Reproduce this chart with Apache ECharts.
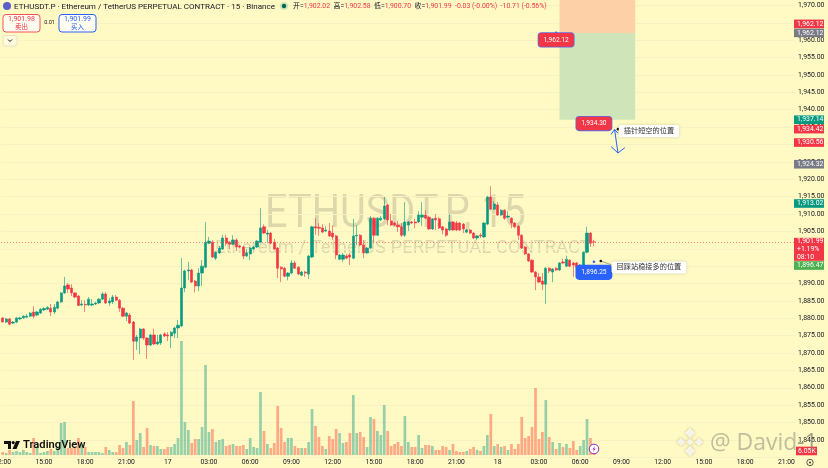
<!DOCTYPE html>
<html>
<head>
<meta charset="utf-8">
<style>html,body{margin:0;padding:0;background:#FFF9C4}#c{width:828px;height:468px}</style>
<script src="https://cdn.jsdelivr.net/npm/echarts@6/dist/echarts.min.js"></script>
</head>
<body>
<div id="c"></div>
<script>
// [open, close, low, high]
const candles = [
[1880.1,1878.9,1878.8,1880.3],[1878.9,1879.8,1878.6,1880.1],[1879.8,1878.3,1878.0,1880.1],[1878.6,1878.9,1878.3,1879.2],[1878.9,1880.1,1878.6,1880.3],
[1879.8,1880.1,1879.5,1880.4],[1880.1,1880.6,1879.8,1880.9],[1880.3,1880.6,1880.1,1881.2],[1880.6,1881.5,1880.3,1881.8],[1881.8,1880.6,1880.0,1883.5],
[1880.9,1881.8,1880.6,1882.1],[1881.5,1882.6,1881.2,1882.9],[1882.4,1882.8,1882.1,1883.2],[1882.6,1883.1,1882.4,1883.5],[1882.9,1881.8,1880.6,1884.1],
[1881.8,1883.2,1881.2,1884.1],[1882.9,1884.7,1882.6,1885.0],[1884.7,1887.3,1884.4,1887.5],[1887.3,1889.3,1887.0,1891.9],[1889.6,1888.4,1887.3,1890.1],
[1888.7,1887.3,1886.4,1889.8],[1887.3,1886.1,1885.8,1887.5],[1886.4,1883.7,1883.5,1886.7],[1883.8,1884.1,1883.5,1885.2],[1884.0,1883.8,1881.8,1885.2],
[1883.8,1885.5,1883.5,1886.1],[1883.8,1884.1,1883.5,1885.5],[1884.1,1884.4,1883.8,1884.7],[1884.4,1885.5,1884.1,1885.8],[1885.5,1887.0,1885.2,1887.5],
[1887.0,1884.4,1884.1,1887.5],[1884.4,1885.0,1883.5,1885.8],[1884.7,1886.1,1884.1,1886.7],[1886.1,1885.2,1885.0,1886.7],[1885.2,1882.9,1881.8,1885.5],
[1882.9,1880.6,1880.3,1883.2],[1880.6,1881.5,1879.2,1881.8],[1880.9,1878.6,1878.3,1881.5],[1878.9,1873.4,1868.0,1879.2],[1873.4,1874.6,1870.9,1875.2],
[1874.3,1876.9,1869.7,1877.2],[1876.9,1874.3,1873.7,1877.2],[1874.3,1872.3,1868.3,1874.6],[1872.3,1875.2,1872.0,1875.5],[1875.2,1872.6,1872.3,1877.0],
[1872.6,1873.2,1872.3,1875.2],[1872.9,1875.2,1872.3,1875.5],[1875.5,1874.9,1874.6,1876.0],[1875.2,1874.9,1873.4,1876.0],[1874.9,1876.0,1871.4,1876.3],
[1875.7,1877.2,1874.3,1877.5],[1877.2,1878.0,1874.3,1879.5],[1877.8,1888.7,1877.5,1897.3],[1888.7,1893.6,1887.5,1894.0],[1893.6,1893.9,1891.0,1896.2],
[1893.9,1890.4,1890.1,1894.2],[1890.7,1889.3,1887.5,1891.0],[1889.3,1893.0,1887.8,1894.4],[1893.0,1895.0,1889.3,1896.7],[1894.7,1901.9,1894.4,1907.7],
[1901.6,1902.2,1901.3,1903.4],[1901.9,1897.6,1897.3,1902.5],[1897.3,1899.0,1896.7,1899.3],[1898.8,1900.2,1898.5,1900.8],[1899.9,1903.1,1899.6,1904.0],
[1903.1,1901.6,1900.8,1904.0],[1901.9,1901.3,1899.9,1902.2],[1901.3,1902.5,1901.0,1903.9],[1902.5,1900.5,1899.3,1903.0],[1900.8,1900.5,1900.2,1901.1],
[1900.5,1897.9,1897.0,1900.8],[1897.9,1898.8,1897.6,1899.9],[1898.5,1900.2,1896.7,1900.5],[1899.9,1900.5,1899.6,1900.8],[1900.5,1902.2,1900.2,1902.5],
[1901.9,1906.0,1901.6,1911.7],[1906.3,1904.5,1904.2,1907.0],[1904.2,1904.5,1901.6,1905.4],[1904.5,1901.6,1901.3,1904.8],[1901.9,1899.9,1899.6,1902.8],
[1900.2,1894.4,1891.6,1900.5],[1894.7,1894.2,1890.4,1895.0],[1894.4,1892.1,1891.8,1894.7],[1892.1,1893.0,1890.9,1893.3],[1893.0,1895.9,1892.7,1896.7],
[1895.9,1894.4,1894.2,1896.5],[1894.7,1892.7,1892.4,1895.0],[1892.4,1893.3,1892.1,1893.6],[1893.3,1893.0,1891.9,1893.6],[1892.7,1897.9,1891.3,1898.2],
[1897.6,1906.3,1897.3,1906.6],[1906.3,1906.0,1904.0,1908.8],[1906.2,1905.9,1903.7,1907.4],[1906.0,1904.8,1904.5,1907.1],[1905.1,1905.4,1904.8,1906.5],
[1905.1,1903.7,1903.4,1907.4],[1904.5,1903.4,1902.5,1906.8],[1903.7,1898.2,1897.0,1904.0],[1897.0,1898.2,1896.7,1898.5],[1897.0,1898.2,1896.2,1898.8],
[1897.9,1897.3,1897.0,1898.5],[1898.2,1897.6,1895.3,1898.8],[1897.3,1903.7,1897.0,1908.6],[1903.7,1903.9,1901.0,1906.8],[1903.9,1901.1,1900.8,1904.2],
[1901.1,1898.8,1897.3,1902.5],[1898.8,1900.2,1898.5,1900.5],[1900.2,1908.8,1899.9,1909.4],[1908.8,1903.9,1901.9,1909.1],[1903.9,1908.8,1903.7,1909.1],
[1908.3,1908.8,1908.0,1909.4],[1908.6,1912.3,1908.3,1914.9],[1912.6,1908.3,1906.8,1912.9],[1908.0,1906.8,1906.5,1910.0],[1907.4,1906.8,1906.5,1907.7],
[1906.8,1906.3,1904.8,1908.0],[1906.3,1903.9,1903.4,1907.4],[1903.9,1907.7,1903.4,1913.4],[1906.8,1907.7,1905.1,1908.0],[1907.7,1907.4,1907.1,1908.0],
[1907.7,1907.4,1905.9,1908.6],[1907.7,1909.7,1907.4,1910.8],[1909.1,1909.7,1906.5,1913.4],[1909.7,1908.8,1908.6,1911.1],[1909.1,1905.7,1905.4,1909.4],
[1905.7,1908.6,1905.4,1908.8],[1908.8,1908.3,1905.4,1910.0],[1908.6,1906.0,1905.7,1909.1],[1906.3,1905.4,1904.2,1906.6],[1905.7,1903.9,1903.4,1906.0],
[1905.4,1907.7,1905.1,1910.0],[1907.7,1905.4,1905.1,1908.0],[1907.4,1905.4,1905.1,1908.0],[1907.4,1905.4,1905.1,1907.7],[1907.1,1905.7,1904.5,1907.4],
[1904.8,1905.4,1904.5,1905.7],[1905.4,1904.5,1904.2,1905.7],[1904.5,1903.1,1902.8,1904.8],[1903.1,1903.7,1902.5,1904.0],[1903.9,1903.7,1903.1,1904.5],
[1903.4,1907.4,1903.1,1907.7],[1907.1,1914.9,1906.8,1915.2],[1914.9,1911.4,1911.1,1918.0],[1911.4,1912.9,1911.1,1913.7],[1912.6,1909.7,1909.4,1913.4],
[1909.7,1911.1,1909.4,1911.4],[1911.1,1908.8,1908.3,1911.4],[1909.1,1909.4,1908.8,1910.8],[1908.8,1907.4,1905.9,1909.1],[1907.4,1906.3,1905.9,1907.7],
[1906.5,1903.9,1902.5,1906.8],[1903.9,1900.2,1899.9,1904.2],[1900.5,1898.5,1898.2,1900.8],[1898.5,1896.5,1896.2,1898.8],[1896.7,1893.3,1893.0,1897.0],
[1893.3,1891.9,1888.1,1893.6],[1891.9,1890.4,1890.1,1893.0],[1890.7,1889.8,1888.1,1893.0],[1889.8,1894.4,1884.1,1894.7],[1894.4,1893.6,1893.0,1894.7],
[1893.3,1894.2,1890.4,1894.4],[1894.4,1893.9,1893.6,1894.7],[1893.9,1895.9,1893.6,1896.2],[1896.2,1895.9,1895.6,1897.1],[1895.0,1897.0,1894.7,1898.0],
[1896.7,1895.0,1894.7,1897.0],[1895.9,1895.3,1891.9,1896.2],[1895.9,1894.7,1891.9,1896.2],[1894.4,1895.3,1893.5,1895.6],[1895.0,1899.0,1894.7,1899.3],
[1899.0,1904.5,1898.7,1906.3],[1904.5,1901.6,1900.5,1904.8],[1902.02,1901.99,1900.70,1902.58]
];
// volume, thousands
const volumes = [
4.5,3,7.5,4.5,6,4.5,7.5,4.5,3,25.5,
13.5,3,4.5,6,9,6,12,48,49.5,10.5,
10.5,10.5,25.5,15,12,4.5,4.5,4.5,4.5,3,
12,7.5,4.5,4.5,15,10.5,19.5,15,81,22.5,
33,12,40.5,15,13.5,13.5,9,9,12,12,
16.5,25.5,171,49.5,37.5,18,24,24,42,135,
34.5,39,19.5,22.5,24,13.5,15,16.5,13.5,13.5,
15,9,25.5,12,10.5,94.5,36,16.5,10.5,18,
73.5,40.5,19.5,25.5,25.5,13.5,10.5,10.5,10.5,19.5,
69,43.5,27,13.5,9,28.5,24,39,33,18,
19.5,33,90,33,34.5,27,12,57,54,36,
30,75,36,13.5,16.5,19.5,13.5,58.5,19.5,12,
12,30,10.5,15,15,13.5,7.5,7.5,13.5,12,
7.5,16.5,6,4.5,4.5,6,9,12,7.5,6,
13.5,30,61.5,13.5,16.5,12,13.5,7.5,16.5,9,
16.5,57,25.5,28.5,42,100.5,24,34.5,82.5,27,
19.5,9,18,12,16.5,10.5,21,7.5,13.5,22.5,
54,25.5,6.05
];
const tickLabels = ['12:00','15:00','18:00','21:00','17','03:00','06:00','09:00','12:00','15:00','18:00','21:00','18','03:00','06:00','09:00','12:00','15:00','18:00','21:00'];
const barCount = 231, barsPerTick = 12;
const categories = Array.from({length: barCount}, (_, i) => String(i));

const lastPrice = 1901.99, stopPrice = 1962.12, targetPrice = 1937.14, shortLine = 1934.42, longLine = 1896.47;
const shortEntry = 1934.30, longEntry = 1896.25;
const badgePrices = [1962.12, 1962.12, 1937.14, 1934.42, 1930.56, 1924.32, 1913.02, 1901.99, 1896.47];
const badgeTexts = ['1,962.12', '1,962.12', '1,937.14', '1,934.42', '1,930.56', '1,924.32', '1,913.02', '1,901.99\n+1.19%\n08:10', '1,896.47'];

const RED = '#F23645', GREEN = '#089981', GRAY = '#787B86', BLUE = '#2962FF', BG = '#FFF9C4';
const badgeColors = [RED, GRAY, GREEN, RED, RED, GRAY, GREEN, RED, '#4CAF50'];
const badgeNudge = [-9, 0, 0, 0, 0, 0, 0, 7.5, 4.5];
const FONT = "Roboto, 'Noto Sans CJK SC', sans-serif";

function commas(v) { return v.toFixed(2).replace(/\B(?=(\d{3})+(?!\d))/g, ','); }

function pill(idx, price, text, fill, border, dy) {
  return { coord: [idx, price], symbolSize: 0, label: { show: true, position: 'inside', offset: [0, dy], formatter: text,
    color: '#fff', fontSize: 6.6, fontFamily: FONT, backgroundColor: fill, borderColor: border, borderWidth: 0.8, borderRadius: 3, padding: [4, 5, 3, 5] } };
}
function note(idx, price, text, dy) {
  return { coord: [idx, price], symbolSize: 0, label: { show: true, position: 'inside', offset: [0, dy], formatter: text,
    color: '#333', fontSize: 7.2, fontFamily: FONT, backgroundColor: '#fff', borderRadius: 2, padding: [3, 5, 2, 5], shadowColor: 'rgba(0,0,0,.18)', shadowBlur: 3 } };
}
function dot(idx, price, color) { return { coord: [idx, price], symbol: 'circle', symbolSize: 2.6, itemStyle: { color }, label: { show: false } }; }

const markers = [
  pill(161, stopPrice, '1,962.12', RED, '#5B6BE8', 7),
  pill(171.8, shortEntry, '1,934.30', RED, '#5B6BE8', -6),
  pill(171.8, longEntry, '1,896.25', BLUE, BLUE, 10.5),
  note(188.4, shortLine, '插针短空的位置', 2),
  note(188.4, longLine, '回踩站稳接多的位置', 6.5),
  dot(161, stopPrice, BLUE), dot(171.8, shortEntry, BLUE), dot(172, longEntry, BLUE),
  dot(179, shortLine, '#111'), dot(174, longLine, '#111')
];
// hand-drawn arrow, in [bar, price]
const arrowShaft = [[177.9, 1934.37], [179, 1927.55]];
const arrowTop = [[177.3, 1932.9], [177.9, 1934.37], [178.6, 1933.2]];
const arrowBottom = [[177.4, 1929.4], [179, 1927.55], [180.6, 1929.1]];
const connectors = [[[174, longLine], [179, 1894.7]], [[179, shortLine], [181, 1933.9]]];

function diamond(cx, cy, r) { return { type: 'polygon', shape: { points: [[cx, cy - r], [cx + r, cy], [cx, cy + r], [cx - r, cy]] }, style: { fill: 'rgba(255,255,255,.8)', shadowColor: 'rgba(120,110,60,.55)', shadowBlur: 3 }, z: 60 }; }
function t(x, y, text, size, color, extra) {
  return { type: 'text', x, y, z: 100, style: Object.assign({ text, fontSize: size, fill: color, fontFamily: FONT, verticalAlign: 'middle' }, extra || {}) };
}
const markStyle = { fontSize: 23, fontFamily: 'Open Sans, sans-serif', fill: 'rgba(150,150,130,.6)', verticalAlign: 'middle', shadowColor: 'rgba(255,255,255,.9)', shadowBlur: 2 };

const graphics = [
  { type: 'rect', shape: { x: 795, y: 455, width: 33, height: 13 }, style: { fill: BG }, z: 1 },
  { type: 'text', x: 265, y: 215, scaleX: 0.845, z: 1, style: { text: 'ETHUSDT.P, 15', fontSize: 47, fontFamily: FONT, fill: 'rgba(120,120,100,.25)', verticalAlign: 'middle' } },
  { type: 'text', x: 215, y: 248, z: 1, style: { text: 'Ethereum / TetherUS PERPETUAL CONTRACT', fontSize: 18.5, fontFamily: FONT, fill: 'rgba(120,120,100,.25)', verticalAlign: 'middle' } },
  // header
  { type: 'circle', shape: { cx: 7, cy: 6, r: 4 }, style: { fill: '#5B5FC7' }, z: 100 },
  t(14, 6.5, 'ETHUSDT.P · Ethereum / TetherUS PERPETUAL CONTRACT · 15 · Binance', 8.05, '#131722'),
  { type: 'circle', shape: { cx: 284, cy: 6, r: 4 }, style: { fill: 'rgba(8,153,129,.2)' }, z: 100 },
  { type: 'circle', shape: { cx: 284, cy: 6, r: 2.2 }, style: { fill: '#056656' }, z: 101 },
  { type: 'text', x: 293, y: 6.5, z: 100, style: { fontFamily: FONT, fontSize: 6.9, verticalAlign: 'middle', fill: '#F23645',
      text: '{k|开=}1,902.02  {k|高=}1,902.58  {k|低=}1,900.70  {k|收=}1,901.99  -0.03 (-0.00%)  -10.71 (-0.56%)',
      rich: { k: { fill: '#131722', fontSize: 6.9, fontFamily: FONT } } } },
  // buttons
  { type: 'rect', shape: { x: 3, y: 14.5, width: 37, height: 17.5, r: 3 }, style: { fill: '#FFFDF0', stroke: '#F7525F', lineWidth: 1 }, z: 100 },
  t(21.5, 19.5, '1,901.98', 7, RED, { align: 'center' }),
  t(21.5, 27, '卖出', 6.5, RED, { align: 'center' }),
  t(49.5, 23, '0.01', 5.5, '#131722', { align: 'center' }),
  { type: 'rect', shape: { x: 59, y: 14.5, width: 37, height: 17.5, r: 3 }, style: { fill: '#FFFDF0', stroke: BLUE, lineWidth: 1 }, z: 100 },
  t(77.5, 19.5, '1,901.99', 7, BLUE, { align: 'center' }),
  t(77.5, 27, '买入', 6.5, BLUE, { align: 'center' }),
  { type: 'rect', shape: { x: 3, y: 35.5, width: 14, height: 10.5, r: 2 }, style: { fill: '#FFFBDC', stroke: '#E5E2C8', lineWidth: 1 }, z: 100 },
  { type: 'polyline', shape: { points: [[8, 39.5], [10, 41.5], [12, 39.5]] }, style: { stroke: '#131722', lineWidth: 1, fill: null }, z: 101 },
  // TradingView logo
  { type: 'polygon', shape: { points: [[4, 441], [11, 441], [11, 449], [8, 449], [8, 444], [4, 444]] }, style: { fill: '#111' }, z: 100 },
  { type: 'circle', shape: { cx: 13.2, cy: 442.6, r: 1.6 }, style: { fill: '#111' }, z: 100 },
  { type: 'polygon', shape: { points: [[16, 441], [20, 441], [16.5, 449], [12.5, 449]] }, style: { fill: '#111' }, z: 100 },
  t(23, 445.5, 'TradingView', 11.2, '#111', { fontWeight: 600 }),
  // lightning marker
  { type: 'circle', shape: { cx: 594, cy: 449, r: 4.8 }, style: { fill: '#fff', stroke: '#9C27B0', lineWidth: 1 }, z: 100 },
  { type: 'polygon', shape: { points: [[595.2, 445.8], [592.4, 449.5], [594, 449.5], [592.8, 452.2], [595.6, 448.5], [594, 448.5]] }, style: { fill: '#9C27B0' }, z: 101 },
  // settings icon
  { type: 'circle', shape: { cx: 810, cy: 462.5, r: 3.2 }, style: { fill: 'none', stroke: '#333', lineWidth: 0.8 }, z: 100 },
  { type: 'circle', shape: { cx: 810, cy: 462.5, r: 1 }, style: { fill: '#333' }, z: 100 },
  // Binance watermark
  diamond(690, 442, 3.6), diamond(690, 433, 5), diamond(690, 451, 5), diamond(681, 442, 4), diamond(699, 442, 4),
  { type: 'text', x: 710, y: 443, z: 60, style: Object.assign({ text: '@ David' }, markStyle) },
  { type: 'text', x: 797, y: 443, z: 60, style: Object.assign({ text: '-1' }, markStyle, { fill: 'rgba(130,130,110,.75)' }) }
];

const option = {
  animation: false,
  backgroundColor: BG,
  textStyle: { fontFamily: FONT },
  grid: [
    { left: 1, width: 794, top: -1.45, height: 458.7, outerBoundsMode: 'none', containLabel: false },
    { left: 1, width: 794, top: 0, height: 455, outerBoundsMode: 'none', containLabel: false }
  ],
  xAxis: [
    { gridIndex: 0, type: 'category', data: categories, show: false },
    { gridIndex: 1, type: 'category', data: categories, z: 0,
      axisLine: { show: false }, axisTick: { show: false }, splitLine: { show: false },
      axisLabel: { interval: (i) => i % barsPerTick === 0, formatter: (v, i) => tickLabels[i / barsPerTick] || '', color: '#131722', fontSize: 6.8, margin: 4, fontFamily: FONT, hideOverlap: false } }
  ],
  yAxis: [
    { gridIndex: 0, type: 'value', position: 'right', min: 1840, max: 1972, interval: 5, z: 3,
      axisLine: { show: false }, axisTick: { show: false },
      splitLine: { lineStyle: { color: '#F8F1C4', width: 1 } },
      axisLabel: { showMinLabel: false, showMaxLabel: false, formatter: (v) => commas(v), color: '#131722', fontSize: 6.9, margin: 3, fontFamily: FONT } },
    { gridIndex: 1, type: 'value', min: 0, max: 682.5, show: false }
  ],
  graphic: { elements: graphics },
  series: [
    { name: 'Volume', type: 'bar', xAxisIndex: 1, yAxisIndex: 1, barWidth: 2.7, z: 4, silent: true,
      data: volumes.map((v, i) => ({ value: v, itemStyle: { color: candles[i][1] >= candles[i][0] ? 'rgba(8,153,129,.42)' : 'rgba(255,90,70,.5)' } })) },
    { name: 'Price', type: 'candlestick', xAxisIndex: 0, yAxisIndex: 0, barWidth: 2.7, z: 5, silent: true,
      itemStyle: { color: GREEN, color0: RED, borderColor: GREEN, borderColor0: RED, borderWidth: 0.6 },
      data: candles,
      markArea: { silent: true, z: 4, data: [
        [{ coord: [162.2, stopPrice], itemStyle: { color: '#FDD0A8' } }, { coord: [184.3, 1972] }],
        [{ coord: [162.2, targetPrice], itemStyle: { color: '#CFE4B8' } }, { coord: [184.3, stopPrice] }]
      ] },
      markLine: { silent: true, z: 6, symbol: ['none', 'none'], label: { show: false }, animation: false, data: [
        [{ coord: [154, stopPrice], lineStyle: { color: RED, width: 1, type: 'solid' } }, { coord: [230.5, stopPrice] }],
        [{ coord: [177.3, shortLine], lineStyle: { color: RED, width: 1, type: 'solid' } }, { coord: [230.5, shortLine] }],
        [{ coord: [170, longLine], lineStyle: { color: '#4CAF50', width: 1, type: 'solid' } }, { coord: [230.5, longLine] }],
        { yAxis: lastPrice, lineStyle: { color: RED, width: 0.7, type: [1, 2], opacity: 0.8 } }
      ] },
      markPoint: { silent: true, data: markers, z: 10 } },
    { name: 'arrow', type: 'custom', xAxisIndex: 0, yAxisIndex: 0, z: 9, silent: true, clip: false, data: [0],
      renderItem: (params, api) => {
        const line = (pts, color, w) => ({ type: 'polyline', shape: { points: pts.map((p) => api.coord(p)) }, style: { stroke: color, lineWidth: w, fill: null } });
        return { type: 'group', children: [line(arrowShaft, BLUE, 1), line(arrowTop, BLUE, 1), line(arrowBottom, BLUE, 1), line(connectors[0], '#8A8A70', 0.8), line(connectors[1], '#8A8A70', 0.8)] };
      } },
    { name: 'badges', type: 'custom', xAxisIndex: 0, yAxisIndex: 0, z: 12, silent: true, clip: false, data: badgePrices.map((p, i) => [i, p]),
      renderItem: (params, api) => {
        const i = api.value(0);
        const y = api.coord([0, api.value(1)])[1] + badgeNudge[i];
        const h = badgeTexts[i].indexOf('\n') >= 0 ? 23 : 8.6;
        return { type: 'group', children: [
          { type: 'rect', shape: { x: 794, y: y - h / 2, width: 30, height: h }, style: { fill: badgeColors[i] } },
          { type: 'text', x: 797, y, style: { text: badgeTexts[i], fill: '#fff', fontSize: 6.9, lineHeight: 7.6, fontFamily: FONT, verticalAlign: 'middle' } }
        ] };
      } },
    { name: 'volume badge', type: 'custom', xAxisIndex: 1, yAxisIndex: 1, z: 12, silent: true, clip: false, data: [[172, volumes[172]]],
      renderItem: (params, api) => {
        const y = api.coord([0, api.value(1)])[1];
        return { type: 'group', children: [
          { type: 'rect', shape: { x: 796, y: y - 4.3, width: 21, height: 8.6 }, style: { fill: RED } },
          { type: 'text', x: 798, y, style: { text: '6.05K', fill: '#fff', fontSize: 6.9, fontFamily: FONT, verticalAlign: 'middle' } }
        ] };
      } }
  ]
};
const chart = echarts.init(document.getElementById('c'), null, { renderer: 'canvas' });
chart.setOption(option);
</script>
</body>
</html>
